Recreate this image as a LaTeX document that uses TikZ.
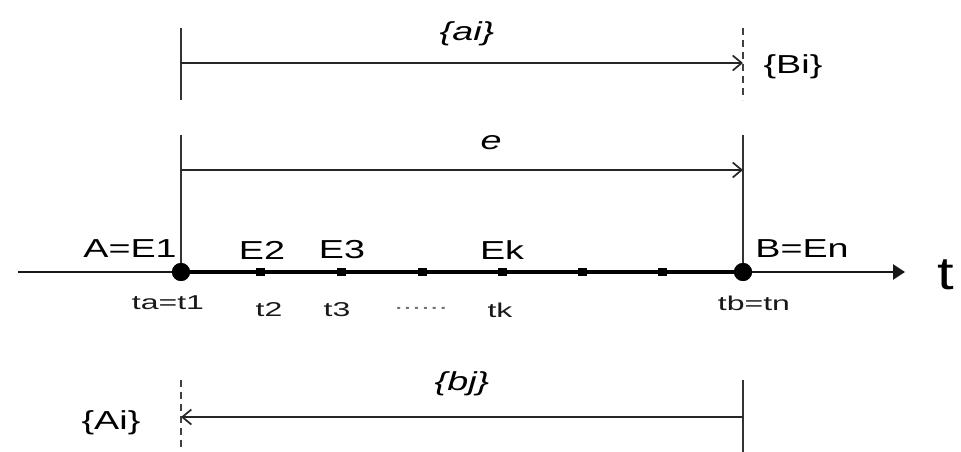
\documentclass[tikz,border=0pt]{standalone}
\usepackage{fontspec}
\setmainfont{Liberation Sans}
\usetikzlibrary{arrows.meta}

% labels are set wide, as in the printed figure
\newcommand{\wx}[1]{\scalebox{1.45}[1]{#1}}
\newcommand{\wsub}[1]{\scalebox{1.6}[1]{#1}}

\tikzset{
  lbl/.style={font=\fontsize{26}{30}\selectfont, inner sep=0pt, text=black},
  sublbl/.style={font=\fontsize{20}{24}\selectfont, inner sep=0pt, text=black!90},
  guide/.style={line width=2pt, draw=black!80},
  dashguide/.style={line width=1.5pt, draw=black!75, dash pattern=on 7pt off 5pt},
  measure/.style={line width=2.2pt, draw=black!85,
    -{Straight Barb[length=9pt,width=15pt,line width=1.7pt]}},
  axisthin/.style={line width=2.4pt, draw=black!90},
  axisthick/.style={line width=4.4pt, draw=black},
  tickmark/.style={rectangle, fill=black, minimum width=9pt, minimum height=8pt, inner sep=0pt},
  event/.style={circle, fill=black, minimum size=18pt, inner sep=0pt},
}

\begin{document}
\begin{tikzpicture}[x=1pt,y=-1pt]
\useasboundingbox[fill=white] (0,0) rectangle (961,452);

% time axis
\coordinate (axL) at (18,272);
\coordinate (axR) at (905,272);
\node[event] (A) at (181,272) {};
\node[event] (B) at (743,272) {};
\draw[axisthin] (axL) -- (A.center);
\draw[axisthick] (A.center) -- (B.center);
\draw[axisthin, -{Triangle[length=12pt,width=15pt]}] (B.center) -- (axR);
\node[tickmark] (k2) at (260,272) {};
\node[tickmark] (k3) at (341,272) {};
\node[tickmark] (k4) at (422,272) {};
\node[tickmark] (kk) at (502,272) {};
\node[tickmark] (k6) at (582,272) {};
\node[tickmark] (k7) at (662,272) {};
\node[font=\fontsize{46}{50}\selectfont, inner sep=0pt] (tlab) at (946,275) {\scalebox{1.3}[1]{t}};

% event labels
\node[lbl] (lA)  at (130,249) {\wx{A=E1}};
\node[lbl] (lE2) at (262,250) {\wx{E2}};
\node[lbl] (lE3) at (342,250) {\wx{E3}};
\node[lbl] (lEk) at (502,250) {\wx{Ek}};
\node[lbl] (lB)  at (802,249) {\wx{B=En}};

% time stamps
\node[sublbl] (sA)  at (168,303) {\wsub{ta=t1}};
\node[sublbl] (s2)  at (269,310) {\wsub{t2}};
\node[sublbl] (s3)  at (337,310) {\wsub{t3}};
\node[sublbl, text=black!55] (sdots) at (421,308) {\wsub{......}};
\node[sublbl] (sk)  at (500,310) {\wsub{tk}};
\node[sublbl] (sB)  at (754,303) {\wsub{tb=tn}};

% interval {ai} ending on {Bi}
\coordinate (aTop) at (181,28);
\coordinate (aBot) at (181,100);
\coordinate (aL) at (181,63);
\coordinate (aR) at (743,63);
\coordinate (biTop) at (743,28);
\coordinate (biBot) at (743,100);
\draw[guide] (aTop) -- (aBot);
\draw[dashguide] (biTop) -- (biBot);
\draw[measure] (aL) -- (aR);
\node[lbl] (ai) at (467,34) {\wx{\itshape\{ai\}}};
\node[lbl] (Bi) at (793,67) {\wx{\{Bi\}}};

% interval e from A to B
\coordinate (eL) at (181,170);
\coordinate (eR) at (743,170);
\coordinate (eLt) at (181,135);
\coordinate (eRt) at (743,135);
\draw[guide] (eLt) -- (A.center);
\draw[guide] (eRt) -- (B.center);
\draw[measure] (eL) -- (eR);
\node[lbl] (e) at (491,143) {\wx{\itshape e}};

% interval {bj} back to {Ai}
\coordinate (bTop) at (743,380);
\coordinate (bBot) at (743,452);
\coordinate (bR) at (743,417);
\coordinate (bL) at (181,417);
\coordinate (aiTop) at (181,380);
\coordinate (aiBot) at (181,452);
\draw[guide] (bTop) -- (bBot);
\draw[dashguide] (aiTop) -- (aiBot);
\draw[measure] (bR) -- (bL);
\node[lbl] (bj) at (462,384) {\wx{\itshape\{bj\}}};
\node[lbl] (Ai) at (111,423) {\wx{\{Ai\}}};

% event points drawn over the axis and guides
\node[event] at (A) {};
\node[event] at (B) {};
\end{tikzpicture}
\end{document}
